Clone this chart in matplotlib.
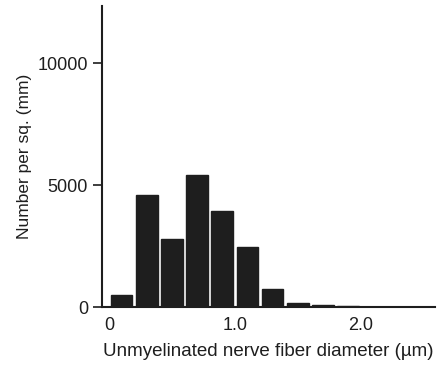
import numpy as np
import matplotlib.pyplot as plt

plt.rcParams['font.family'] = ['Liberation Sans', 'DejaVu Sans']

# bin centres (um) and counts per sq. mm
diameters = [0.1, 0.3, 0.5, 0.7, 0.9, 1.1, 1.3, 1.5, 1.7, 1.9]
counts = [500, 4600, 2780, 5410, 3950, 2440, 750, 150, 100, 60]
xticks = [0, 1.0, 2.0]
xtick_labels = ['0', '1.0', '2.0']
yticks = [0, 5000, 10000]

fig = plt.figure(figsize=(4.44, 3.73), dpi=100)
ax = fig.add_axes([0.2297, 0.1769, 0.75, 0.807])

ax.bar(diameters, counts, width=0.172, color='#1e1e1e', edgecolor='#1e1e1e')

ax.set_xlim(-0.056, 2.59)
ax.set_ylim(0, 12340)

ax.set_xticks(xticks)
ax.set_xticklabels(xtick_labels)
ax.set_yticks(yticks)
ax.set_yticklabels([str(v) for v in yticks])

ax.tick_params(axis='x', length=0, pad=7, labelsize=13, colors='#1e1e1e')
ax.tick_params(axis='y', length=6.5, width=1.2, pad=3.5, labelsize=13, colors='#1e1e1e')

for side in ['top', 'right']:
    ax.spines[side].set_visible(False)
for side in ['left', 'bottom']:
    ax.spines[side].set_linewidth(1.5)
    ax.spines[side].set_color('#1e1e1e')

ax.set_xlabel('Unmyelinated nerve fiber diameter (\u00b5m)', fontsize=13.5, labelpad=7, color='#1e1e1e')
ax.set_ylabel('Number per sq. (mm)', fontsize=12.5, labelpad=4, color='#1e1e1e')

fig.savefig('out.png', dpi=100)
